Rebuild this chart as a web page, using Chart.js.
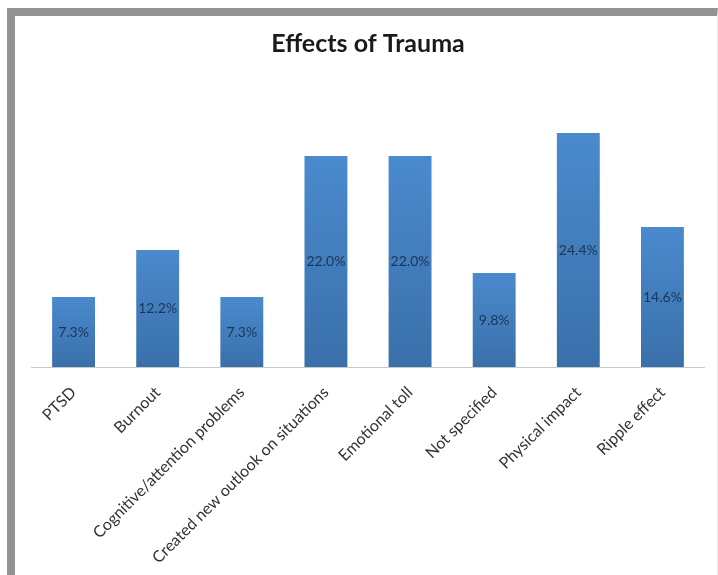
<!DOCTYPE html>
<html>
<head>
<meta charset="utf-8">
<script src="https://cdn.jsdelivr.net/npm/chart.js@4/dist/chart.umd.min.js"></script>
<style>
  html, body { margin: 0; padding: 0; background: #ffffff; }
  #wrap { position: relative; width: 718px; height: 575px; overflow: hidden; background: #ffffff; }
  #frame {
    position: absolute; left: 7px; top: 8px; right: 0; bottom: 0;
    border-left: 8px solid #939396; border-top: 8px solid #939396;
    border-right: 1px solid #ececec;
  }
  #chart { position: absolute; left: 0; top: 0; }
</style>
</head>
<body>
<div id="wrap">
  <div id="frame"></div>
  <canvas id="chart" width="718" height="575"></canvas>
</div>
<script>
// Categories and their shares (percent of responses)
const categories = [
  'PTSD',
  'Burnout',
  'Cognitive/attention problems',
  'Created new outlook on situations',
  'Emotional toll',
  'Not specified',
  'Physical impact',
  'Ripple effect'
];
const percentages = [7.3, 12.2, 7.3, 22.0, 22.0, 9.8, 24.4, 14.6];
const chartTitle = 'Effects of Trauma';

// Vertical gradient per bar: lighter at the top, deeper blue at the base
function barGradient(context) {
  const chart = context.chart;
  const yScale = chart.scales.y;
  if (!chart.chartArea || !yScale || context.dataIndex === undefined) return '#4380c0';
  const v = context.dataset.data[context.dataIndex];
  const top = yScale.getPixelForValue(v);
  const bottom = yScale.getPixelForValue(0);
  const g = chart.ctx.createLinearGradient(0, top, 0, bottom);
  g.addColorStop(0, '#4a8acd');
  g.addColorStop(1, '#3a70aa');
  return g;
}

// Writes each bar's value in the middle of the bar
const valueLabels = {
  id: 'valueLabels',
  afterDatasetsDraw(chart) {
    const ctx = chart.ctx;
    const meta = chart.getDatasetMeta(0);
    ctx.save();
    ctx.font = '14px Lato, "Liberation Sans", sans-serif';
    ctx.fillStyle = '#1c3555';
    ctx.textAlign = 'center';
    ctx.textBaseline = 'middle';
    meta.data.forEach((bar, i) => {
      const v = chart.data.datasets[0].data[i];
      ctx.fillText(v.toFixed(1) + '%', bar.x, (bar.y + bar.base) / 2);
    });
    ctx.restore();
  }
};

new Chart(document.getElementById('chart'), {
  type: 'bar',
  data: {
    labels: categories,
    datasets: [{
      data: percentages,
      backgroundColor: barGradient,
      borderWidth: 0,
      categoryPercentage: 1.0,
      barPercentage: 0.51
    }]
  },
  options: {
    responsive: false,
    animation: false,
    devicePixelRatio: 1,
    layout: { padding: { left: 31.5, right: 13.5, top: 0, bottom: 0 } },
    plugins: {
      legend: { display: false },
      tooltip: { enabled: false },
      title: {
        display: true,
        text: chartTitle,
        color: '#1a1a1a',
        font: { family: 'Lato, "Liberation Sans", sans-serif', size: 25, weight: 'bold', lineHeight: 1.2 },
        padding: { top: 29, bottom: 39.5 }
      }
    },
    scales: {
      x: {
        grid: { display: false, drawTicks: false },
        border: { display: true, color: '#c9c9c9', width: 1 },
        ticks: {
          color: '#333333',
          font: { family: 'Lato, "Liberation Sans", sans-serif', size: 16 },
          maxRotation: 45,
          minRotation: 45,
          padding: 16,
          autoSkip: false
        },
        afterFit(scale) { scale.height = 208; }
      },
      y: {
        display: false,
        min: 0,
        max: 28
      }
    }
  },
  plugins: [valueLabels]
});
</script>
</body>
</html>
